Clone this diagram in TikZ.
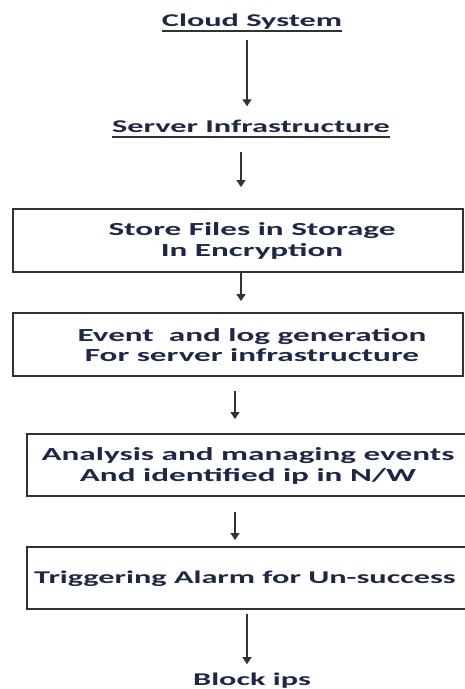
\documentclass[tikz,border=0pt]{standalone}
\usepackage{fontspec}
\setmainfont[FakeStretch=1.8]{Carlito}
\usetikzlibrary{arrows.meta}
\definecolor{texte}{RGB}{30,40,70}
\definecolor{trait}{RGB}{50,50,50}

\begin{document}
\begin{tikzpicture}[x=1bp, y=-1bp,
    titre/.style={inner sep=0pt, anchor=base, text=texte,
      font=\fontsize{18}{21}\selectfont\bfseries},
    etape/.style={inner sep=0pt, text=texte, align=center,
      font=\fontsize{18.5}{20.5}\selectfont\bfseries},
    boite/.style={draw=trait, line width=1.8bp, inner sep=0pt},
    souligne/.style={draw=trait, line width=1.3bp},
    fleche/.style={draw=trait, line width=1.3bp,
      -{Triangle[width=9bp,length=7bp]}}]
    \useasboundingbox (0,0) rectangle (465,689);
    \clip (0,0) rectangle (465,689);

    % titres souligne
    \draw (252,27) node[titre] (cloud) {Cloud System};
    \draw (251,133) node[titre] (server) {Server Infrastructure};
    \draw (252,685) node[titre] (block) {Block ips};
    \draw[souligne] ([yshift=-4bp]cloud.base west) -- ([yshift=-4bp]cloud.base east);
    \draw[souligne] ([yshift=-4bp]server.base west) -- ([yshift=-4bp]server.base east);

    % dessin des boites
    \draw (238,240.5) node[boite, minimum width=450bp, minimum height=63bp] (stockage) {};
    \draw (238,344.5) node[boite, minimum width=450bp, minimum height=63bp] (evenement) {};
    \draw (265,465) node[boite, minimum width=476bp, minimum height=62bp] (analyse) {};
    \draw (265,578) node[boite, minimum width=476bp, minimum height=62bp] (alarme) {};

    % textes des boites
    \draw (252,241) node[etape] (stockagetxt) {Store Files in Storage\\In Encryption};
    \draw (252,345) node[etape] (evenementtxt) {Event~ and log generation\\For server infrastructure};
    \draw (248,466) node[etape] (analysetxt) {Analysis and managing events\\And identified ip in N/W};
    \draw (34,583) node[etape, anchor=base west, font=\fontsize{18}{20.5}\selectfont\bfseries]
        (alarmetxt) {Triggering Alarm for Un-success};

    % fleches entre les etapes
    \draw[fleche, shorten <=10bp, shorten >=14bp] ([xshift=-5bp]cloud.south)
        -- ([xshift=-5bp]cloud.south |- server.north);
    \draw[fleche, shorten <=19bp, shorten >=21bp] ([xshift=-10bp]server.south)
        -- ([xshift=-10bp]server.south |- stockage.north);
    \draw[fleche, shorten >=11bp] ([xshift=3bp]stockage.south)
        -- ([xshift=3bp]stockage.south |- evenement.north);
    \draw[fleche, shorten <=14bp, shorten >=14bp] ([xshift=-3bp]evenement.south)
        -- ([xshift=-3bp]evenement.south |- analyse.north);
    \draw[fleche, shorten <=15bp, shorten >=6bp] ([xshift=-30bp]analyse.south)
        -- ([xshift=-30bp]analyse.south |- alarme.north);
    \draw[fleche, shorten <=4bp, shorten >=8bp] ([xshift=-18bp]alarme.south)
        -- ([xshift=-18bp]alarme.south |- block.north);
\end{tikzpicture}
\end{document}
